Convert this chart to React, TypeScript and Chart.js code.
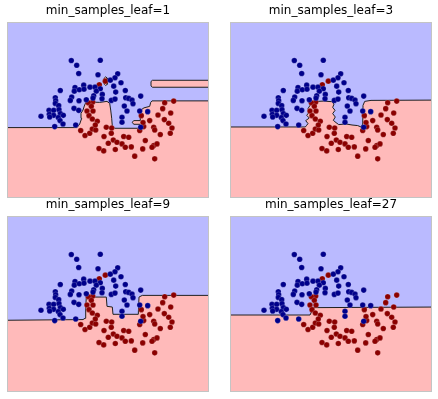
import React, { useEffect, useRef } from "react";
import { Chart, registerables } from "chart.js";

Chart.register(...registerables);

// ---- data (feature space of the two-moons sample, arbitrary units) ----
const X_MIN = 0;
const X_MAX = 202;
const Y_MIN = 0;
const Y_MAX = 176.7;

const titles = [
  "min_samples_leaf=1",
  "min_samples_leaf=3",
  "min_samples_leaf=9",
  "min_samples_leaf=27",
];

const class0X = [64.3, 69.7, 93.3, 71.7, 91, 110.7, 108, 103.3, 114, 53.3, 68, 67.3, 72.3, 76.7, 77, 83, 88, 93.3, 89.3, 95.3, 86.7, 106.7, 108.7, 118.3, 64.7, 63.3, 72, 79.3, 86, 95, 104.3, 108, 118.7, 121.7, 125, 126, 133.7, 48.3, 48.7, 48.3, 51.7, 42, 46.7, 52, 53.3, 42.3, 46.7, 51.3, 34, 42.7, 56.3, 53, 56, 47.7, 68.7, 67, 71.7, 117.3, 120, 132.7, 140.7, 115, 115, 133.7];
const class0Y = [138, 133.3, 138.3, 125, 123.7, 124.7, 120.7, 118.3, 115.7, 108, 111, 107.3, 108.7, 113.3, 109.3, 111.3, 111.3, 109.7, 107.3, 104, 102.7, 112.3, 106.3, 108, 101.3, 98, 97.7, 98.7, 100.3, 99.7, 98, 99.3, 100.7, 100, 98.3, 94.7, 102.3, 100.7, 97.7, 95, 92.7, 88, 88, 88.7, 84.7, 84, 83, 80.7, 82, 81.3, 83, 77.7, 74.3, 71.7, 73.3, 90, 88, 92.3, 87.3, 87.3, 86.7, 81, 76, 71];

const class1X = [98.3, 92.3, 85.7, 81.3, 80, 84.3, 86, 82, 85.3, 90.3, 73.7, 78, 82.7, 85.3, 88.7, 99.3, 97, 104.3, 101.3, 106.3, 92, 96.7, 110, 115, 116.7, 121.7, 118.3, 124.3, 108.3, 127.7, 134.3, 142.7, 151, 157.3, 161.7, 165, 146.7, 147.7, 136.7, 132.7, 138.3, 146.7, 145, 150, 153.3, 163.3, 135.7, 147.7, 157.7, 166.7, 155.7, 163.7, 136, 104.7, 88.3];
const class1Y = [117.3, 113.7, 96.3, 95.7, 87.3, 92, 87.3, 82.7, 79.3, 77, 67.7, 62.7, 65, 69.3, 68.3, 71, 61.7, 65, 55, 58.3, 49.7, 47.3, 56, 54.3, 61.7, 61, 51, 51.3, 48.7, 42, 82.7, 77.7, 83.3, 78.7, 75, 70.3, 71, 68.3, 71.7, 67.7, 57.7, 52.7, 51, 54.3, 63.7, 65, 49.3, 39.3, 95.7, 97.3, 89.7, 85.3, 75.7, 70.3, 73.3];

// decision boundaries (class 0 above, class 1 below)
const boundary1X = [-5, 70, 72.7, 74.7, 74, 76, 77.3, 78.7, 84.3, 92.7, 100, 102.7, 103.7, 104.7, 105.3, 107.7, 132.7, 133, 126.7, 125.3, 126.7, 133, 133.3, 137, 142.7, 143.7, 145, 207];
const boundary1Y = [70.7, 70.7, 74.3, 80, 85, 88.3, 92.3, 95.7, 96.3, 96, 97, 95, 88.3, 80, 72.3, 70, 70, 74, 74, 76, 77.7, 77.7, 88, 90.5, 92, 96, 97.5, 97.5];
const island1X = [207, 145.5, 144, 144, 145.5, 207, 207];
const island1Y = [111.2, 111.2, 112.5, 117, 118.2, 118.2, 111.2];
const oval1X = [98.7, 100.1, 100.5, 100.1, 98.7, 97.3, 96.9, 97.3, 98.7];
const oval1Y = [121.7, 120.5, 117.3, 114.2, 113, 114.2, 117.3, 120.5, 121.7];

const boundary2X = [-5, 75.3, 76.7, 78, 75.7, 79.3, 76.7, 79.3, 78, 80, 81.3, 93.7, 101.7, 104, 102.7, 105, 102.7, 105.3, 103.3, 106, 108.7, 116, 122, 127.7, 131, 132.7, 133, 134.7, 141, 207];
const boundary2Y = [71.3, 71.3, 73, 74.7, 77.7, 80.3, 83, 86.3, 89.7, 93, 96.7, 97.3, 96.7, 94.3, 91, 88, 84.7, 81.3, 78, 75.7, 73.7, 74.3, 73.3, 72.7, 71.3, 74.3, 93, 97, 98, 98.3];

const boundary3X = [-5, 76, 78, 78.7, 79.3, 99.3, 100, 105.3, 106, 131.3, 132, 135.3, 207];
const boundary3Y = [72, 72.7, 74, 84, 95.3, 95.3, 86, 85.3, 78, 78, 95.3, 97, 97];

const boundary4X = [-5, 80, 83.7, 207];
const boundary4Y = [77.3, 77.3, 84.7, 85.3];

// ---- styles ----
const BLUE_REGION = "rgb(186,186,255)";
const PINK_REGION = "rgb(255,186,186)";
const CLASS0_COLOR = "#00008b";
const CLASS1_COLOR = "#8b0000";
const LINE_COLOR = "#202020";
const FRAME_COLOR = "#c4c4c4";

const zip = (xs: number[], ys: number[]) => xs.map((x, i) => ({ x, y: ys[i] }));

type PanelDef = {
  title: string;
  boundaryX: number[];
  boundaryY: number[];
  islands: { x: number[]; y: number[] }[];
  left: number;
  top: number;
  width: number;
  height: number;
  padLeft: number;
  padRight: number;
};

const panels: PanelDef[] = [
  { title: titles[0], boundaryX: boundary1X, boundaryY: boundary1Y, islands: [{ x: island1X, y: island1Y }, { x: oval1X, y: oval1Y }], left: 0, top: 0, width: 216, height: 199, padLeft: 7, padRight: 7 },
  { title: titles[1], boundaryX: boundary2X, boundaryY: boundary2Y, islands: [], left: 223, top: 0, width: 215, height: 199, padLeft: 7, padRight: 6 },
  { title: titles[2], boundaryX: boundary3X, boundaryY: boundary3Y, islands: [], left: 0, top: 194, width: 216, height: 199, padLeft: 7, padRight: 7 },
  { title: titles[3], boundaryX: boundary4X, boundaryY: boundary4Y, islands: [], left: 223, top: 194, width: 215, height: 199, padLeft: 7, padRight: 6 },
];

const framePlugin = {
  id: "panelFrame",
  beforeDatasetsDraw(chart: any) {
    const { ctx, chartArea } = chart;
    ctx.save();
    ctx.fillStyle = PINK_REGION;
    ctx.fillRect(chartArea.left, chartArea.top, chartArea.right - chartArea.left, chartArea.bottom - chartArea.top);
    ctx.restore();
  },
  afterDatasetsDraw(chart: any) {
    const { ctx, chartArea } = chart;
    ctx.save();
    ctx.strokeStyle = FRAME_COLOR;
    ctx.lineWidth = 1;
    ctx.strokeRect(chartArea.left + 0.5, chartArea.top + 0.5, chartArea.right - chartArea.left - 1, chartArea.bottom - chartArea.top - 1);
    ctx.restore();
  },
};

function Panel({ def }: { def: PanelDef }) {
  const ref = useRef<HTMLCanvasElement | null>(null);
  useEffect(() => {
    if (!ref.current) return;
    const boundary = zip(def.boundaryX, def.boundaryY);
    const region = [...boundary, { x: 207, y: Y_MAX + 6 }, { x: -5, y: Y_MAX + 6 }, boundary[0]];
    const lineBase = {
      showLine: true,
      pointRadius: 0,
      pointHoverRadius: 0,
      pointHitRadius: 0,
      tension: 0,
    };
    const datasets: any[] = [
      {
        label: "class 0",
        data: zip(class0X, class0Y),
        pointRadius: 2.8,
        pointBackgroundColor: CLASS0_COLOR,
        pointBorderColor: "rgba(255,255,255,0.35)",
        pointBorderWidth: 0.5,
        showLine: false,
        order: 0,
      },
      {
        label: "class 1",
        data: zip(class1X, class1Y),
        pointRadius: 2.8,
        pointBackgroundColor: CLASS1_COLOR,
        pointBorderColor: "rgba(255,255,255,0.35)",
        pointBorderWidth: 0.5,
        showLine: false,
        order: 0,
      },
      {
        ...lineBase,
        label: "boundary",
        data: boundary,
        borderColor: LINE_COLOR,
        borderWidth: 1,
        fill: false,
        order: 1,
      },
      ...def.islands.map((isl) => ({
        ...lineBase,
        label: "island",
        data: zip(isl.x, isl.y),
        borderColor: LINE_COLOR,
        borderWidth: 1,
        backgroundColor: PINK_REGION,
        fill: "shape",
        order: 2,
      })),
      {
        ...lineBase,
        label: "region 0",
        data: region,
        borderColor: "rgba(0,0,0,0)",
        borderWidth: 0,
        backgroundColor: BLUE_REGION,
        fill: "shape",
        order: 3,
      },
    ];
    const chart = new Chart(ref.current, {
      type: "scatter",
      data: { datasets },
      options: {
        animation: false,
        responsive: false,
        devicePixelRatio: 1,
        events: [],
        layout: { autoPadding: false, padding: { left: def.padLeft, right: def.padRight, top: 0, bottom: 1 } },
        scales: {
          x: { type: "linear", min: X_MIN, max: X_MAX, display: false },
          y: { type: "linear", min: Y_MIN, max: Y_MAX, display: false },
        },
        plugins: {
          legend: { display: false },
          tooltip: { enabled: false },
          title: {
            display: true,
            text: def.title,
            color: "#000000",
            font: { family: "'DejaVu Sans', sans-serif", size: 12, weight: "normal", lineHeight: "14px" },
            padding: { top: 4, bottom: 4 },
          },
        },
      } as any,
      plugins: [framePlugin],
    });
    return () => chart.destroy();
  }, [def]);
  return (
    <canvas
      ref={ref}
      width={def.width}
      height={def.height}
      style={{ position: "absolute", left: def.left, top: def.top, width: def.width, height: def.height, display: "block" }}
    />
  );
}

export default function App() {
  return (
    <div style={{ position: "fixed", left: 0, top: 0, width: 438, height: 399, background: "#ffffff", overflow: "hidden" }}>
      {panels.map((p, i) => (
        <Panel key={i} def={p} />
      ))}
    </div>
  );
}
